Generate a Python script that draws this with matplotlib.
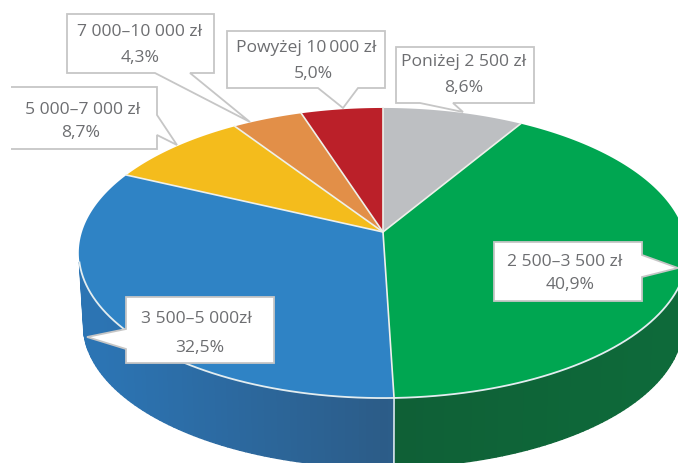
#!/usr/bin/env python3

import numpy as np
import matplotlib
matplotlib.use('Agg')
import matplotlib.pyplot as plt
from matplotlib.colors import to_rgb
from matplotlib.patches import Polygon

# clockwise from 12 o'clock
labels = ['Poniżej 2 500 zł', '2 500–3 500 zł', '3 500–5 000zł',
          '5 000–7 000 zł', '7 000–10 000 zł', 'Powyżej 10\u2009000 zł']
values_txt = ['8,6%', '40,9%', '32,5%', '8,7%', '4,3%', '5,0%']
values = [8.6, 40.9, 32.5, 8.7, 4.3, 5.0]
colors = ['#bdbfc2', '#00a651', '#2f83c5', '#f4bc1c', '#e28f48', '#bb2029']
side_colors = ['#8f9193', '#0e6a3a', '#2c74b3', '#c09010', '#b06f30', '#8f1820']
side_front = ['#8f9193', '#0f5f36', '#2c5c88', '#c09010', '#b06f30', '#8f1820']

plt.rcParams['font.family'] = ['Open Sans', 'DejaVu Sans']


def project(ang, scale=1.0, dy=0.0):
    '''perspective projection of the unit circle, angle clockwise from top'''
    u = np.sin(ang)
    v = np.cos(ang)
    w = 1 + 0.1448 * v
    return 383 + scale * 301 * u / w, 232 + dy - scale * 142 * v / w


def tail_outline(box, tail):
    x0, y0, x1, y1 = box
    side, a, tip, b = tail
    if side == 'bottom':
        return [(x0, y0), (x1, y0), (x1, y1), (b, y1), tip, (a, y1), (x0, y1)]
    if side == 'right':
        return [(x0, y0), (x1, y0), (x1, a), tip, (x1, b), (x1, y1), (x0, y1)]
    return [(x0, y0), (x1, y0), (x1, y1), (x0, y1), (x0, b), tip, (x0, a)]


def callout(ax, box, tail, title, val, title_pos, val_pos, left_edge=True):
    pts = tail_outline(box, tail)
    ax.add_patch(Polygon(pts, closed=True, fc='white', ec='none', zorder=5))
    ax.add_patch(Polygon(pts, closed=left_edge, fill=False, ec='#c6c6c6', lw=1.3, zorder=6))
    ax.text(*title_pos, title, ha='center', va='center', fontsize=12.6,
            color='#6d6e71', zorder=7)
    ax.text(*val_pos, val, ha='center', va='center', fontsize=12.6,
            color='#6d6e71', zorder=7)


fig = plt.figure(figsize=(6.78, 4.63), dpi=100)
ax = fig.add_axes([0, 0, 1, 1])
ax.set_xlim(0, 678)
ax.set_ylim(463, 0)
ax.axis('off')

edges = np.cumsum([0] + values) / sum(values) * 2 * np.pi

# side wall, only the front part is visible
for i in range(len(values)):
    a0, a1 = edges[i], edges[i + 1]
    steps = np.linspace(a0, a1, max(2, int((a1 - a0) / 0.02)))
    c0 = np.array(to_rgb(side_colors[i]))
    c1 = np.array(to_rgb(side_front[i]))
    for s0, s1 in zip(steps[:-1], steps[1:]):
        mid = (s0 + s1) / 2
        if np.cos(mid) > -0.2:
            continue
        t = np.clip(1 - abs(mid - np.pi) / 1.1, 0, 1) ** 1.5
        xt, yt = project(np.array([s0, s1]))
        xb, yb = project(np.array([s1, s0]), 0.985, 72)
        ax.fill(np.r_[xt, xb], np.r_[yt, yb], color=c0 + (c1 - c0) * t, lw=1.0, zorder=1)

# seam on the wall
xs, ys = project(edges[2])
xb, yb = project(edges[2], 0.985, 72)
ax.plot([xs, xb], [ys, yb], color='#d8e6ea', lw=1.2, zorder=2)

# top face
for i in range(len(values)):
    th = np.linspace(edges[i], edges[i + 1], 120)
    x, y = project(th)
    ax.fill(np.r_[383, x], np.r_[232, y], color=colors[i], lw=0, zorder=3)

# white rim on the front and slice separators
th = np.linspace(np.radians(100), np.radians(258), 200)
ax.plot(*project(th), color='#e3edf0', lw=1.3, zorder=4)
for e in edges[:-1]:
    x, y = project(e)
    ax.plot([383, x], [232, y], color='#eef0ea', lw=1.2, zorder=4)

callout(ax, (396, 47, 534, 103), ('bottom', 420, (463, 112), 453), labels[0], values_txt[0],
        (464, 62), (464, 88))
callout(ax, (494, 242, 642, 301), ('right', 255, (678, 268), 277), labels[1], values_txt[1],
        (565, 262), (570, 285))
callout(ax, (126, 297, 274, 363), ('left', 329, (87, 337), 349), labels[2], values_txt[2],
        (196, 319), (200, 348))
callout(ax, (11, 87, 157, 149), ('right', 115, (177, 145), 135), labels[3], values_txt[3],
        (83, 110), (81, 133), left_edge=False)
callout(ax, (67, 14, 214, 73), ('bottom', 155, (250, 122), 190), labels[4], values_txt[4],
        (140, 32), (140, 58))
callout(ax, (227, 31, 385, 88), ('bottom', 318, (343, 108), 358), labels[5], values_txt[5],
        (306, 48), (313, 74))

fig.savefig('out.png', dpi=100)
